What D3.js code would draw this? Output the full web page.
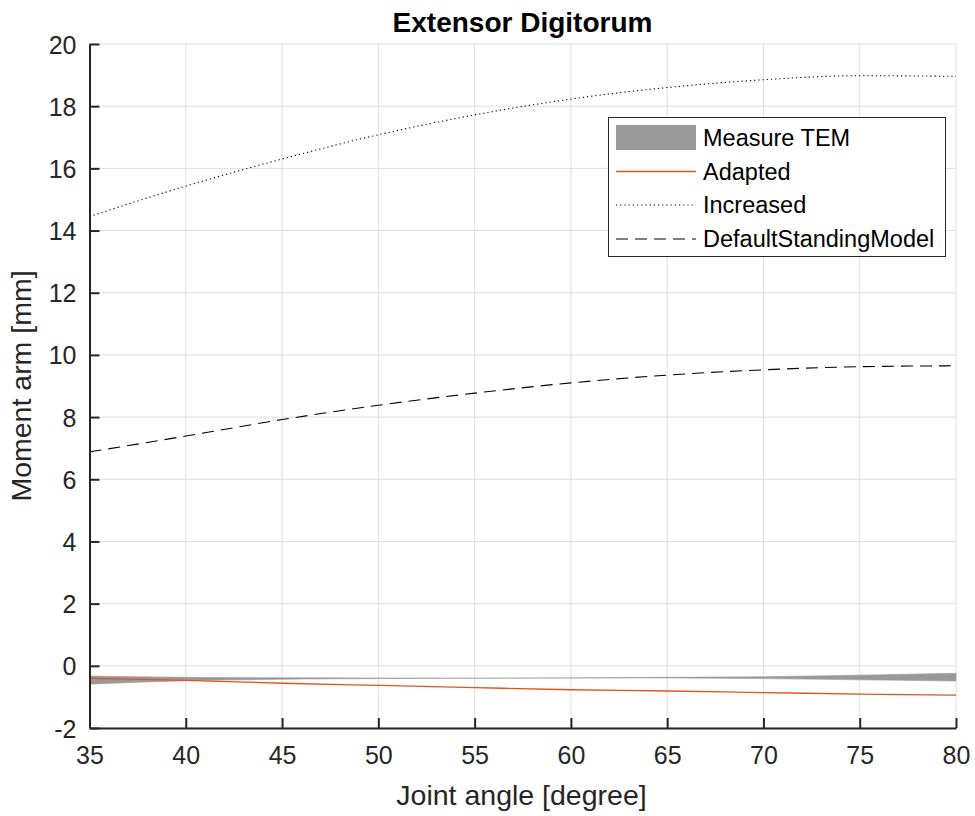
<!DOCTYPE html>
<html><head><meta charset="utf-8">
<script src="https://cdn.jsdelivr.net/npm/d3@7"></script>
<style>body{margin:0;background:#fff}svg{display:block}text{font-family:"Liberation Sans",Arial,sans-serif}</style>
</head><body>
<svg id="c" width="975" height="816"></svg>
<script>
const angles = [35, 40, 45, 50, 55, 60, 65, 70, 75, 80];
const increased = [14.45, 15.43, 16.3, 17.08, 17.72, 18.23, 18.6, 18.85, 18.98, 18.96];
const defaultModel = [6.88, 7.39, 7.92, 8.38, 8.77, 9.1, 9.35, 9.52, 9.62, 9.65];
const adapted = [-0.40, -0.47, -0.56, -0.63, -0.70, -0.77, -0.81, -0.86, -0.91, -0.94];
const temUpper = [-0.33, -0.37, -0.385, -0.39, -0.397, -0.388, -0.37, -0.35, -0.30, -0.24];
const temLower = [-0.59, -0.48, -0.43, -0.41, -0.40, -0.39, -0.39, -0.41, -0.45, -0.49];
const xTicks = [35, 40, 45, 50, 55, 60, 65, 70, 75, 80];
const yTicks = [-2, 0, 2, 4, 6, 8, 10, 12, 14, 16, 18, 20];
const legendLabels = ["Measure TEM", "Adapted", "Increased", "DefaultStandingModel"];

const svg = d3.select("#c");
const x = d3.scaleLinear().domain([35, 80]).range([89.5, 956]);
const y = d3.scaleLinear().domain([-2, 20]).range([728, 44]);
const axisCol = "#262626";
const FONT = '"Liberation Sans",Arial,sans-serif';

// grid
const g = svg.append("g");
g.selectAll(".gx").data(xTicks).enter().append("line")
  .attr("x1", d => x(d)).attr("x2", d => x(d)).attr("y1", y(-2)).attr("y2", y(20))
  .attr("stroke", "#dfdfdf").attr("stroke-width", 1);
g.selectAll(".gy").data(yTicks).enter().append("line")
  .attr("x1", x(35)).attr("x2", x(80)).attr("y1", d => y(d)).attr("y2", d => y(d))
  .attr("stroke", "#dfdfdf").attr("stroke-width", 1);

const pts = angles.map((a, i) => ({a, i}));
// band
svg.append("path").datum(pts)
  .attr("d", d3.area().x(d => x(d.a)).y0(d => y(temLower[d.i])).y1(d => y(temUpper[d.i])).curve(d3.curveMonotoneX))
  .attr("fill", "#999999").attr("stroke", "#999999").attr("stroke-width", 0.6);

const line = arr => d3.line().x(d => x(d.a)).y(d => y(arr[d.i])).curve(d3.curveMonotoneX);
svg.append("path").datum(pts).attr("d", line(adapted)).attr("fill", "none").attr("stroke", "#e1541c").attr("stroke-width", 1.3);
svg.append("path").datum(pts).attr("d", line(increased)).attr("fill", "none").attr("stroke", "#000").attr("stroke-width", 1.1).attr("stroke-dasharray", "1.2,3");
svg.append("path").datum(pts).attr("d", line(defaultModel)).attr("fill", "none").attr("stroke", "#000").attr("stroke-width", 1.1).attr("stroke-dasharray", "12,7");

// axes
const fmt = d => String(d);
const xAxis = d3.axisBottom(x).tickValues(xTicks).tickFormat(fmt).tickSizeInner(-10).tickSizeOuter(0).tickPadding(18);
const yAxis = d3.axisLeft(y).tickValues(yTicks).tickFormat(fmt).tickSizeInner(-10).tickSizeOuter(0).tickPadding(13);
const xa = svg.append("g").attr("transform", `translate(0,${y(-2)})`).call(xAxis);
const ya = svg.append("g").attr("transform", `translate(${x(35)},0)`).call(yAxis);
[xa, ya].forEach(a => {
  a.select(".domain").attr("stroke", axisCol).attr("stroke-width", 2);
  a.selectAll(".tick line").attr("stroke", axisCol).attr("stroke-width", 2);
  a.selectAll(".tick text").attr("fill", axisCol).style("font-size", "25px").style("font-family", FONT);
});
ya.selectAll(".tick text").attr("dy", "0.36em");

// titles
svg.append("text").attr("x", 522.5).attr("y", 31.5).attr("text-anchor", "middle")
  .style("font-size", "28px").style("font-weight", "bold").attr("fill", "#000").text("Extensor Digitorum");
svg.append("text").attr("x", 521.5).attr("y", 805).attr("text-anchor", "middle")
  .style("font-size", "28.5px").attr("fill", axisCol).text("Joint angle [degree]");
svg.append("text").attr("transform", `translate(31,386) rotate(-90)`).attr("text-anchor", "middle")
  .style("font-size", "28.5px").attr("fill", axisCol).text("Moment arm [mm]");

// legend
const lg = svg.append("g");
lg.append("rect").attr("x", 608.5).attr("y", 117.5).attr("width", 337).attr("height", 139)
  .attr("fill", "#fff").attr("stroke", "#262626").attr("stroke-width", 1);
const rowY = [138, 171.5, 205, 239];
lg.append("rect").attr("x", 616).attr("y", 125).attr("width", 80).attr("height", 25).attr("fill", "#999999");
lg.append("line").attr("x1", 616).attr("x2", 696).attr("y1", rowY[1]).attr("y2", rowY[1]).attr("stroke", "#e1541c").attr("stroke-width", 1.3);
lg.append("line").attr("x1", 616).attr("x2", 696).attr("y1", rowY[2]).attr("y2", rowY[2]).attr("stroke", "#000").attr("stroke-width", 1.1).attr("stroke-dasharray", "1.2,3");
lg.append("line").attr("x1", 616).attr("x2", 696).attr("y1", rowY[3]).attr("y2", rowY[3]).attr("stroke", "#000").attr("stroke-width", 1.1).attr("stroke-dasharray", "12,7");
lg.selectAll(".lt").data(legendLabels).enter().append("text")
  .attr("x", 703).attr("y", (d, i) => rowY[i]).attr("dy", "0.36em")
  .style("font-size", "23.5px").attr("fill", "#000").text(d => d);
</script>
</body></html>
